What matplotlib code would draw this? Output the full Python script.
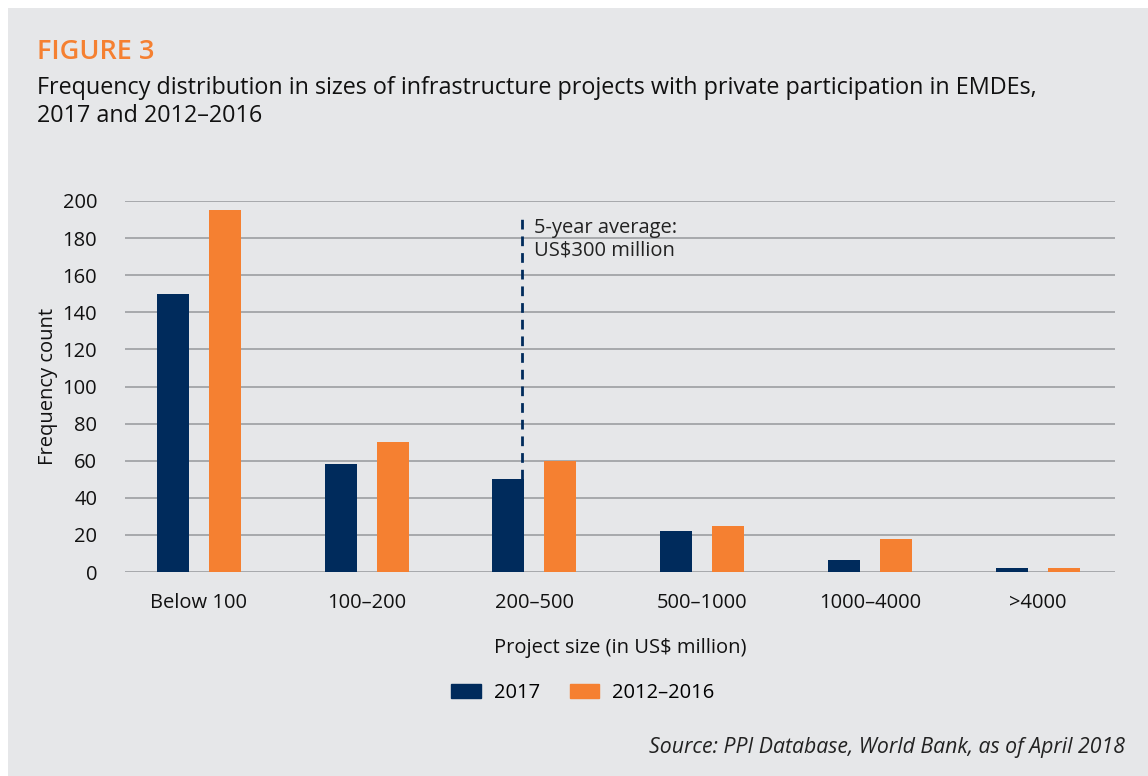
import matplotlib
matplotlib.use("Agg")
import matplotlib.pyplot as plt
import numpy as np
from matplotlib.patches import Rectangle, Patch

plt.rcParams["font.family"] = ["Open Sans", "DejaVu Sans"]

categories = ["Below 100", "100–200", "200–500", "500–1000", "1000–4000", ">4000"]
counts_2017 = [150, 58, 50, 22, 6.5, 2]
counts_2012_2016 = [195, 70, 60, 25, 18, 2]
yticks = [0, 20, 40, 60, 80, 100, 120, 140, 160, 180, 200]
avg_label = "5-year average:\nUS$300 million"

navy = "#002b5c"
orange = "#f58031"
bg = "#e6e7e9"
grid = "#a7a9ac"
fs = 14.5

W, H = 1148, 776
fig = plt.figure(figsize=(W / 100, H / 100), dpi=100)
fig.patches.append(Rectangle((8 / W, 0), 1, 1 - 8 / H, transform=fig.transFigure,
                             facecolor=bg, edgecolor="none", zorder=-10))

ax = fig.add_axes([125 / W, 1 - 572 / H, 990 / W, 371 / H])
ax.patch.set_alpha(0)

x = np.arange(len(categories))
bw, off = 0.19, 0.155
ax.bar(x - off, counts_2017, bw, color=navy, zorder=3, label="2017")
ax.bar(x + off, counts_2012_2016, bw, color=orange, zorder=3, label="2012–2016")

# 5-year average marker, stops at the top of the 200–500 bar
ax.vlines(1.925, counts_2017[2], 191, colors=navy, linestyles=(0, (3.5, 2.5)), lw=2, zorder=2)
ax.text(2.0, 191, avg_label, fontsize=fs, color="#222222", va="top",
        ha="left", linespacing=1.22)

ax.set_xlim(-0.44, 5.46)
ax.set_ylim(0, 200)
ax.set_yticks(yticks)
ax.set_xticks(x)
ax.set_xticklabels(categories)
ax.yaxis.grid(True, color=grid, lw=1.4, zorder=0)
ax.set_axisbelow(True)
for s in ax.spines.values():
    s.set_visible(False)
ax.tick_params(length=0, labelsize=fs, colors="#111111")
ax.tick_params(axis="y", pad=20)
ax.tick_params(axis="x", pad=15)
ax.set_ylabel("Frequency count", fontsize=fs, color="#111111", labelpad=3)
ax.set_xlabel("Project size (in US$ million)", fontsize=fs, color="#111111", labelpad=18)

handles = [Patch(color=navy, label="2017"), Patch(color=orange, label="2012–2016")]
fig.legend(handles=handles, loc="center", bbox_to_anchor=(583 / W, 1 - 693 / H),
           ncol=2, frameon=False, fontsize=fs, handlelength=1.45, handleheight=0.72,
           columnspacing=1.5, handletextpad=0.65)

fig.text(37 / W, 1 - 52 / H, "FIGURE 3", fontsize=19.5, color=orange, va="center",
         fontweight="semibold")
fig.text(37 / W, 1 - 102 / H,
         "Frequency distribution in sizes of infrastructure projects with private participation in EMDEs,\n2017 and 2012–2016",
         fontsize=16.8, color="#111111", va="center", linespacing=1.25)
fig.text(1125 / W, 1 - 747 / H, "Source: PPI Database, World Bank, as of April 2018",
         fontsize=15.3, style="italic", color="#222222", ha="right", va="center")

fig.savefig("out.png", dpi=100)
